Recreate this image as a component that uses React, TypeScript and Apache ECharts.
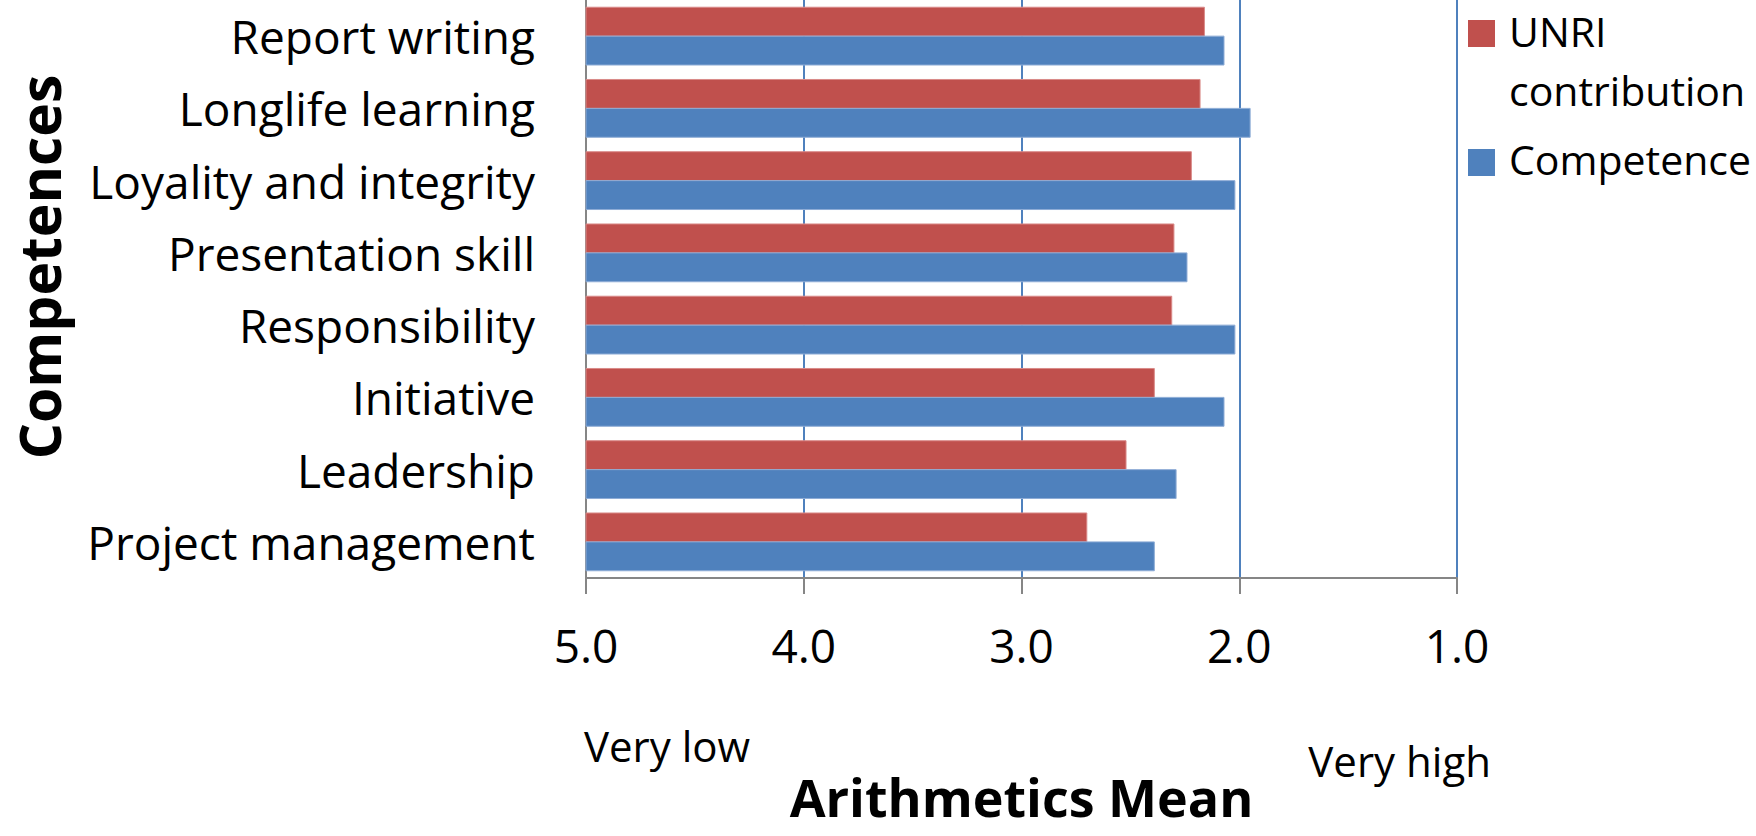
import React, { useEffect, useRef } from "react";
import * as echarts from "echarts";

const categories = [
  "Report writing",
  "Longlife learning",
  "Loyality and integrity",
  "Presentation skill",
  "Responsibility",
  "Initiative",
  "Leadership",
  "Project management",
];
const unriContribution = [2.16, 2.18, 2.22, 2.3, 2.31, 2.39, 2.52, 2.7];
const competence = [2.07, 1.95, 2.02, 2.24, 2.02, 2.07, 2.29, 2.39];
const seriesNames = ["UNRI contribution", "Competence"];
const xTicksMin = 1;
const xTicksMax = 5;

const RED = "#C0504D";
const BLUE = "#4F81BD";
const GRAY = "#868686";
const FONT = "'Open Sans', 'Noto Sans', sans-serif";

function makeSeries(name: string, values: number[], color: string, edge: string, upper: boolean) {
  return {
    type: "custom",
    name,
    data: values.map((v, i) => [v, i]),
    encode: { x: 0, y: 1 },
    itemStyle: { color, borderColor: edge, borderWidth: 1 },
    renderItem: (params: any, api: any) => {
      const idx = api.value(1);
      const v = api.value(0);
      const start = api.coord([xTicksMax, idx]);
      const end = api.coord([v, idx]);
      const band = api.size([0, 1])[1];
      const h = band * 0.4;
      const y = upper ? start[1] - h : start[1];
      return {
        type: "rect",
        shape: { x: start[0], y, width: end[0] - start[0], height: h },
        style: api.style(),
      };
    },
    z: 3,
  };
}

export default function App() {
  const ref = useRef<HTMLDivElement>(null);
  useEffect(() => {
    if (!ref.current) return;
    const chart = echarts.init(ref.current, null, { renderer: "svg" });
    chart.setOption({
      animation: false,
      backgroundColor: "#ffffff",
      textStyle: { fontFamily: FONT },
      grid: { left: 586, right: 299, top: 0, bottom: 258, containLabel: false },
      xAxis: {
        type: "value",
        min: xTicksMin,
        max: xTicksMax,
        interval: 1,
        inverse: true,
        position: "bottom",
        axisLine: { show: true, lineStyle: { color: GRAY, width: 2 } },
        axisTick: { show: true, inside: false, length: 16, lineStyle: { color: GRAY, width: 2 } },
        splitLine: { show: true, lineStyle: { color: BLUE, width: 2 } },
        axisLabel: {
          fontSize: 46,
          color: "#000",
          fontFamily: FONT,
          margin: 44,
          formatter: (v: number) => v.toFixed(1),
        },
        name: "Arithmetics Mean",
        nameLocation: "middle",
        nameGap: 192,
        nameTextStyle: { fontSize: 52, lineHeight: 52, fontWeight: "bold", color: "#000", fontFamily: FONT },
      },
      yAxis: {
        type: "category",
        inverse: true,
        data: categories,
        axisLine: { show: true, lineStyle: { color: GRAY, width: 2 } },
        axisTick: { show: false },
        splitLine: { show: false },
        axisLabel: {
          fontSize: 46,
          color: "#000",
          fontFamily: FONT,
          margin: 51,
          padding: [0, 0, 9, 0],
        },
      },
      series: [
        makeSeries(seriesNames[0], unriContribution, RED, "#D98A88", true),
        makeSeries(seriesNames[1], competence, BLUE, "#8EACD6", false),
      ],
      graphic: [
        {
          type: "text",
          x: 39,
          y: 267,
          rotation: Math.PI / 2,
          style: {
            text: "Competences",
            fontSize: 57,
            lineHeight: 57,
            fontWeight: "bold",
            fontFamily: FONT,
            fill: "#000",
            align: "center",
            verticalAlign: "middle",
          },
        },
        {
          type: "text",
          x: 584,
          y: 745,
          style: {
            text: "Very low",
            fontSize: 42,
            fontFamily: FONT,
            fill: "#000",
            align: "left",
            verticalAlign: "middle",
          },
        },
        {
          type: "text",
          x: 1491,
          y: 760,
          style: {
            text: "Very high",
            fontSize: 42,
            fontFamily: FONT,
            fill: "#000",
            align: "right",
            verticalAlign: "middle",
          },
        },
        {
          type: "rect",
          shape: { x: 1468, y: 20, width: 27, height: 27 },
          style: { fill: RED },
        },
        {
          type: "text",
          x: 1509,
          y: 1.5,
          style: {
            text: "UNRI\ncontribution",
            fontSize: 41,
            lineHeight: 59,
            fontFamily: FONT,
            fill: "#000",
            align: "left",
            verticalAlign: "top",
          },
        },
        {
          type: "rect",
          shape: { x: 1468, y: 149, width: 27, height: 27 },
          style: { fill: BLUE },
        },
        {
          type: "text",
          x: 1509,
          y: 159,
          style: {
            text: seriesNames[1],
            fontSize: 41,
            fontFamily: FONT,
            fill: "#000",
            align: "left",
            verticalAlign: "middle",
          },
        },
      ],
    });
    return () => chart.dispose();
  }, []);
  return (
    <div
      ref={ref}
      style={{ position: "fixed", left: 0, top: 0, width: "1756px", height: "836px", background: "#fff" }}
    />
  );
}
